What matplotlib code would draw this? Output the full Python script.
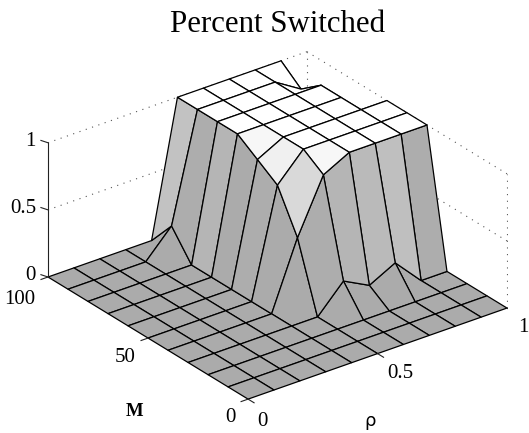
import numpy as np
import matplotlib
matplotlib.use("Agg")
import matplotlib.pyplot as plt
from mpl_toolkits.mplot3d import proj3d

# ---- data -------------------------------------------------------------
rho = [0, .1, .2, .3, .4, .5, .6, .7, .8, .9, 1]
M = [0, 10, 20, 30, 40, 50, 60, 70, 80, 90, 100]
switched = [  # rows: rho, columns: M
    [0, 0, 0, 0, 0, 0, 0, 0, 0, 0, 0],
    [0, 0, 0, 0, 0, 0, 0, 0, 0, 0, 0],
    [0, 0, 0, 0, 0, 0, 0, 0, 0, 0, 0],
    [0, 0, 0, 0, 0, 0, 0, 0, 0, 0, 0],
    [0, 0, 0, 0, 0, 0, 0, 0, 0, .2, 0],
    [0, 0, 0, 0, .5, .8, .9, 1, 1, 1, 1],
    [0, 0, 0, .2, .9, 1, 1, 1, 1, 1, 1],
    [0, 0, 0, .1, 1, 1, 1, 1, 1, 1, 1],
    [0, 0, 0, .2, 1, 1, 1, 1, 1, 1, 1],
    [0, 0, 0, 0, 1, 1, 1, 1, 1, .88, 1],
    [0, 0, 0, 0, 1, 1, 1, 0, 0, 0, 0],
]
F = .67
cell_gray = [  # rows: rho cell, columns: M cell
    [F, F, F, F, F, F, F, F, F, F],
    [F, F, F, F, F, F, F, F, F, F],
    [F, F, F, F, F, F, F, F, F, F],
    [F, F, F, F, F, F, F, F, F, F],
    [F, F, F, F, F, .68, .67, .71, .68, .76],
    [F, F, F, .68, .85, .94, .97, 1, 1, 1],
    [F, F, F, .71, .97, 1, 1, 1, 1, 1],
    [F, F, F, .73, 1, 1, 1, 1, 1, 1],
    [F, F, F, .75, 1, 1, 1, 1, 1, 1],
    [F, F, F, .68, 1, 1, 1, 1, 1, 1],
]
z_ticks = [0, .5, 1]
m_ticks = [0, 50, 100]
rho_ticks = [0, .5, 1]

W, H = 529, 433
plt.rcParams["font.family"] = ["Liberation Serif", "DejaVu Serif"]
fig = plt.figure(figsize=(W / 100, H / 100), dpi=100)
ax = fig.add_axes([0, 0, 1, 1], projection="3d", proj_type="ortho", computed_zorder=False)
ax.set_axis_off()
ax.patch.set_alpha(0)
ax.view_init(elev=27.6, azim=-127.2)
ax.set_box_aspect((1, 1.018, .466))
ax.set_xlim(0, 1); ax.set_ylim(0, 100); ax.set_zlim(0, 1)

R, MM = np.meshgrid(rho, M, indexing="ij")
Z = np.array(switched, float)
g = np.pad(np.array(cell_gray), ((0, 1), (0, 1)), mode="edge")
colors = np.dstack([g, g, g, np.ones_like(g)])
ax.plot_surface(R, MM, Z, rstride=1, cstride=1, facecolors=colors, shade=False,
                edgecolor="black", linewidth=.9, antialiased=True, zorder=3)

# back-wall dotted grid, box and ticks
dot = dict(color="#555555", linestyle=(0, (1, 5)), linewidth=.8, zorder=1)
for z in z_ticks[1:]:
    ax.plot([0, 1], [100, 100], [z, z], **dot)
    ax.plot([1, 1], [100, 0], [z, z], **dot)
for r in (.5, 1):
    ax.plot([r, r], [100, 100], [0, 1], **dot)
ax.plot([1, 1], [50, 50], [0, 1], **dot)
ax.plot([1, 1], [0, 0], [0, 1], **dot)

solid = dict(color="#222222", linewidth=.8, zorder=4)
ax.plot([0, 0], [100, 100], [0, 1], **solid)
for z in z_ticks:
    ax.plot([0, -.008], [100, 102.5], [z, z], **solid)
for m in m_ticks:
    ax.plot([0, -.027], [m, m], [0, 0], **solid)
for r in rho_ticks:
    ax.plot([r, r], [0, -3], [0, 0], **solid)


def place():
    A = (0, 100, 0); B = (1, 0, 0)
    tA = np.array([48., H - 277]); tB = np.array([507., H - 308])
    S = float(H); L = 0.; Bt = 0.
    for _ in range(3):
        ax.set_position([L / W, Bt / H, S / W, S / H])
        ax.apply_aspect()
        proj = ax.get_proj()
        pts = []
        for p in (A, B):
            x, y, _z = proj3d.proj_transform(*p, proj)
            pts.append(ax.transData.transform((x, y)))
        k = (tB[0] - tA[0]) / (pts[1][0] - pts[0][0])
        S *= k
        ax.set_position([L / W, Bt / H, S / W, S / H])
        ax.apply_aspect()
        x, y, _z = proj3d.proj_transform(*A, proj)
        a = ax.transData.transform((x, y))
        L += tA[0] - a[0]
        Bt += tA[1] - a[1]
    ax.set_position([L / W, Bt / H, S / W, S / H])


place()


def label(x, y, s, size=15, ha="center", **kw):
    fig.text(x / W, 1 - y / H, s, fontsize=size, ha=ha, va="center", color="black", **kw)


label(277.5, 25, "Percent Switched", size=22.2)
label(36, 142, "1", ha="right")
label(36, 209, "0.5", ha="right")
label(36, 276, "0", ha="right")
label(35, 299, "100", ha="right")
label(136, 357, "50", ha="right")
label(236, 418, "0", ha="right")
label(262, 421, "0")
label(400, 374, "0.5")
label(523, 327, "1")
label(135, 411, "M", size=13.5, fontweight="bold")
fig.text(370 / W, 1 - 421 / H, "ρ", fontsize=13, ha="center", va="center", family="DejaVu Sans")

fig.savefig("out.png", dpi=100)
